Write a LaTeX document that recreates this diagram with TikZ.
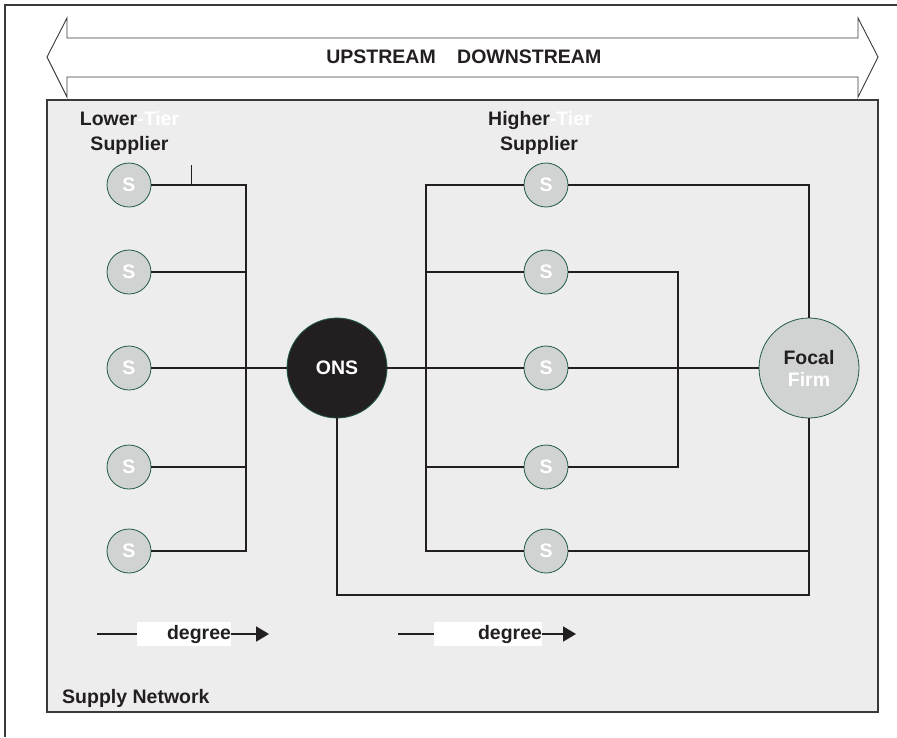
\documentclass[tikz,border=0pt]{standalone}
\usepackage{fontspec}
\setmainfont{Liberation Sans}
\usetikzlibrary{arrows.meta}
\definecolor{ink}{HTML}{231F20}
\definecolor{panel}{HTML}{EDEDED}
\definecolor{circfill}{HTML}{D1D3D2}
\definecolor{circline}{HTML}{1F5C3F}
\definecolor{frameline}{HTML}{3A3A3A}
\begin{document}
\begin{tikzpicture}[x=1pt,y=-1pt,
  font=\fontsize{19.5}{23}\selectfont\bfseries,
  conn/.style={draw=ink, line width=1.8pt, line join=miter},
  sup/.style={circle, fill=circfill, draw=circline, line width=0.8pt, minimum size=44pt, inner sep=0pt, text=white},
  bigfirm/.style={circle, fill=circfill, draw=circline, line width=0.8pt, minimum size=100pt, inner sep=0pt, align=center, text=ink},
  onsnode/.style={circle, fill=ink, draw=circline, line width=0.8pt, minimum size=100pt, inner sep=0pt, text=white},
  lbl/.style={anchor=base, inner sep=0pt, text=ink},
  degbox/.style={fill=white, minimum height=24pt, inner sep=0pt, align=right, text=ink},
  degarrow/.style={draw=ink, line width=1.8pt, -{Triangle[length=13pt,width=15pt]}}
]
\useasboundingbox (0,0) rectangle (897,737);
% outer frame (only top and left edges visible)
\draw[frameline, line width=1.5pt] (897,5) -- (5,5) -- (5,737);
% supply network panel
\draw[fill=panel, draw=frameline, line width=1.3pt] (47,100) rectangle (878,712);
% double arrow
\draw[fill=white, draw=frameline, line width=0.9pt]
  (47,57) -- (67,18) -- (67,38) -- (858,38) -- (858,18) -- (878,57)
  -- (858,97) -- (858,77) -- (67,77) -- (67,97) -- cycle;
\node[anchor=base east, inner sep=0pt, text=ink] (up) at (436,63) {UPSTREAM};
\node[anchor=base west, inner sep=0pt, text=ink] (down) at (457,63) {DOWNSTREAM};

% labels
\node[lbl] (lowT) at (129.5,125) {Lower\textcolor{white}{-Tier}};
\node[lbl] (lowS) at (129.5,150) {Supplier};
\node[lbl] (highT) at (540,125) {Higher\textcolor{white}{-Tier}};
\node[lbl] (highS) at (539,150) {Supplier};
\node[anchor=base west, inner sep=0pt, text=ink] (sn) at (62,703) {Supply Network};

% nodes
\node[sup] (L1) at (129,185) {S};
\node[sup] (L2) at (129,272) {S};
\node[sup] (L3) at (129,368) {S};
\node[sup] (L4) at (129,467) {S};
\node[sup] (L5) at (129,551) {S};
\node[sup] (R1) at (546,185) {S};
\node[sup] (R2) at (546,272) {S};
\node[sup] (R3) at (546,368) {S};
\node[sup] (R4) at (546,467) {S};
\node[sup] (R5) at (546,551) {S};
\node[onsnode] (ONS) at (337,368) {ONS};
\node[bigfirm] (F) at (809,368) {Focal\\[-1pt]\textcolor{white}{Firm}};

% bus coordinates
\coordinate (lb) at (246,300);
\coordinate (rb) at (426,300);
\coordinate (ib) at (678,300);
\coordinate (bot) at (500,595);
\coordinate (tk) at (191,165);

% left side connectors
\draw[conn] (L1) -- (L1 -| lb) -- (L5 -| lb) -- (L5);
\draw[conn] (L2) -- (L2 -| lb);
\draw[conn] (L4) -- (L4 -| lb);
\draw[conn] (L3) -- (ONS);
\draw[draw=ink, line width=0.8pt] (tk) -- (tk |- L1);

% right side connectors
\draw[conn] (ONS) -- (R3);
\draw[conn] (R1) -- (R1 -| rb) -- (R5 -| rb) -- (R5);
\draw[conn] (R2) -- (R2 -| rb);
\draw[conn] (R4) -- (R4 -| rb);
\draw[conn] (R2) -- (R2 -| ib) -- (R4 -| ib) -- (R4);
\draw[conn] (R3) -- (F);
\draw[conn] (R1) -| (F);
\draw[conn] (R5) -- (R5 -| F);
\draw[conn] (F.south) -- (F.south |- bot) -- (ONS.south |- bot) -- (ONS.south);

% degree arrows
\coordinate (a1s) at (97,634);
\coordinate (a1e) at (269,634);
\coordinate (a2s) at (398,634);
\coordinate (a2e) at (576,634);
\draw[degarrow] (a1s) -- (a1e);
\draw[degarrow] (a2s) -- (a2e);
\node[degbox, text width=94pt, minimum width=94pt] (d1) at (184,634) {degree};
\node[degbox, text width=108pt, minimum width=108pt] (d2) at (488,634) {degree};
\end{tikzpicture}
\end{document}
